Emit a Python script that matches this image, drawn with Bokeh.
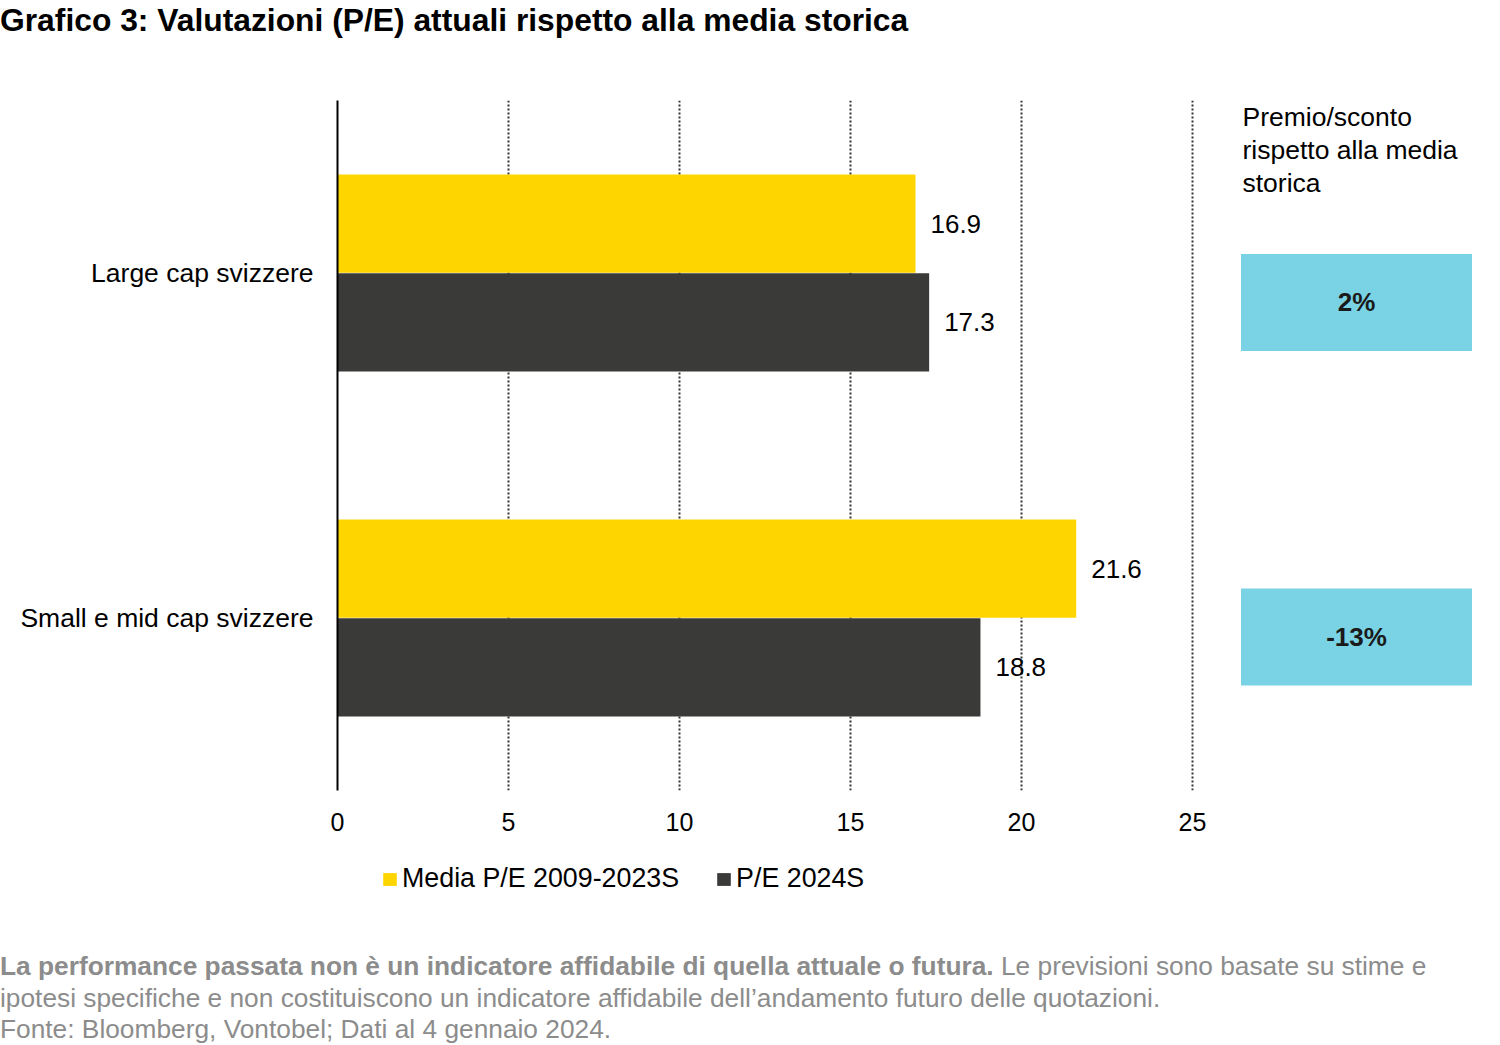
from bokeh.plotting import figure
from bokeh.models import (FactorRange, Range1d, FixedTicker, Legend, LegendItem,
                          Label, Div, ColumnDataSource)
from bokeh.transform import dodge
from bokeh.layouts import column
from bokeh.core.properties import value
from bokeh.embed import file_html
from bokeh.resources import INLINE

# ---------------- data ----------------
categories = ["Large cap svizzere", "Small e mid cap svizzere"]
media_pe = [16.9, 21.6]
pe_2024 = [17.3, 18.8]
premio = ["2%", "-13%"]
series_names = ["Media P/E 2009-2023S", "P/E 2024S"]
x_ticks = [0, 5, 10, 15, 20, 25]
title_text = "Grafico 3: Valutazioni (P/E) attuali rispetto alla media storica"
side_heading = ["Premio/sconto", "rispetto alla media", "storica"]
footer_bold = "La performance passata non è un indicatore affidabile di quella attuale o futura."
footer_rest1 = "Le previsioni sono basate su stime e"
footer_line2 = "ipotesi specifiche e non costituiscono un indicatore affidabile dell\u2019andamento futuro delle quotazioni."
footer_line3 = "Fonte: Bloomberg, Vontobel; Dati al 4 gennaio 2024."

# ---------------- style ----------------
FONT = "Liberation Sans"
YELLOW = "#FFD500"
DARK = "#3A3B38"
CYAN = "#79D3E4"
GREY = "#8C8C8C"
PX_PER_UNIT = 34.2
PAGE_W = 1495
LEFT = 337
FRAME_W = PAGE_W - LEFT

src = ColumnDataSource(dict(
    cat=categories, media=media_pe, pe=pe_2024,
    media_lbl=[f"{v:.1f}" for v in media_pe],
    pe_lbl=[f"{v:.1f}" for v in pe_2024],
))

p = figure(width=PAGE_W, height=810, output_backend="svg", toolbar_location=None,
           y_range=FactorRange(factors=categories[::-1], range_padding=0, factor_padding=0),
           x_range=Range1d(0, FRAME_W / PX_PER_UNIT),
           min_border_left=LEFT, min_border_right=0, min_border_top=60, min_border_bottom=60)
p.outline_line_color = None
p.background_fill_color = "white"
p.border_fill_color = "white"

# axes
p.xaxis.ticker = FixedTicker(ticks=x_ticks)
p.xaxis.axis_line_color = None
p.xaxis.major_tick_line_color = None
p.xaxis.major_tick_out = 0
p.xaxis.major_tick_in = 0
p.xaxis.minor_tick_line_color = None
p.xaxis.major_label_text_font = FONT
p.xaxis.major_label_text_font_size = "25px"
p.xaxis.major_label_text_color = "black"
p.xaxis.major_label_standoff = 22

p.yaxis.axis_line_color = "black"
p.yaxis.axis_line_width = 2
p.yaxis.major_tick_line_color = None
p.yaxis.major_tick_out = 0
p.yaxis.major_tick_in = 0
p.yaxis.minor_tick_line_color = None
p.yaxis.major_label_text_font = FONT
p.yaxis.major_label_text_font_size = "26.5px"
p.yaxis.major_label_text_color = "black"
p.yaxis.major_label_standoff = 24

p.ygrid.grid_line_color = None
p.xgrid.ticker = FixedTicker(ticks=x_ticks[1:])
p.xgrid.grid_line_color = "#333333"
p.xgrid.grid_line_width = 2
p.xgrid.grid_line_dash = "2 2"

# bars
r1 = p.hbar(y=dodge("cat", 0.143, range=p.y_range), left=0, right="media", height=0.285,
            fill_color=YELLOW, line_color=None, source=src)
r2 = p.hbar(y=dodge("cat", -0.143, range=p.y_range), left=0, right="pe", height=0.285,
            fill_color=DARK, line_color=None, source=src)

# value labels
for col, lbl, off in (("media", "media_lbl", 0.143), ("pe", "pe_lbl", -0.143)):
    p.text(x=col, y=dodge("cat", off, range=p.y_range), text=lbl, source=src,
           x_offset=15, text_align="left", text_baseline="middle",
           text_font=value(FONT), text_font_size="26px", text_color="black")

# premium / discount boxes
BOX_X = (1356 - LEFT) / PX_PER_UNIT
box_offsets = [-0.0855, -0.055]
for cat, txt, off in zip(categories, premio, box_offsets):
    s = ColumnDataSource(dict(cat=[cat], t=[txt]))
    yy = dodge("cat", off, range=p.y_range)
    p.rect(x=BOX_X, y=yy, width=231, height=97, width_units="screen", height_units="screen",
           fill_color=CYAN, line_color=None, source=s)
    p.text(x=BOX_X, y=yy, text="t", source=s, text_align="center", text_baseline="middle",
           text_font=value(FONT), text_font_size="26px", text_font_style="bold",
           text_color="#1A1A1A")

# side heading
HEAD_X = (1242 - LEFT) / PX_PER_UNIT
for i, line in enumerate(side_heading):
    p.add_layout(Label(x=HEAD_X, x_units="data", y=674 - 33 * i, y_units="screen",
                       text=line, text_font=FONT, text_font_size="26.5px",
                       text_baseline="middle", text_align="left", text_color="black"))

# legend strip (separate small figure holding only the legend; its renderers are hidden)
lg = figure(width=PAGE_W, height=90, output_backend="svg", toolbar_location=None,
            x_range=Range1d(0, 1), y_range=Range1d(0, 1),
            x_axis_type=None, y_axis_type=None, min_border=0)
lg.outline_line_color = None
lg.grid.grid_line_color = None
l1 = lg.hbar(y=0.5, left=0, right="media", height=0.5, source=src,
             fill_color=YELLOW, line_color=None, visible=False)
l2 = lg.hbar(y=0.5, left=0, right="pe", height=0.5, source=src,
             fill_color=DARK, line_color=None, visible=False)
legend = Legend(items=[LegendItem(label=series_names[0], renderers=[l1], index=0),
                       LegendItem(label=series_names[1], renderers=[l2], index=0)],
                orientation="horizontal", location=(44, 46),
                glyph_width=17, glyph_height=16, label_standoff=4, spacing=36,
                padding=0, margin=0, border_line_color=None, background_fill_alpha=0,
                label_text_font=FONT, label_text_font_size="26.8px", label_text_color="black")
lg.add_layout(legend, "center")

title_div = Div(text=(f'<div style="white-space:nowrap;'
                      f'font-family:\'{FONT}\';font-weight:bold;font-size:31.8px;line-height:40px;color:#000">'
                      f'{title_text}</div>'), width=PAGE_W, height=40, margin=0)

footer_div = Div(text=(f'<div style="position:relative;top:11px;white-space:nowrap;'
                       f'font-family:\'{FONT}\';font-size:26.3px;line-height:31.5px;color:{GREY}">'
                       f'<b>{footer_bold}</b> {footer_rest1}<br>{footer_line2}<br>{footer_line3}</div>'),
                 width=PAGE_W, height=100, margin=0)

layout = column(title_div, p, lg, footer_div, spacing=0)
open("out.html", "w").write(file_html(layout, INLINE))
